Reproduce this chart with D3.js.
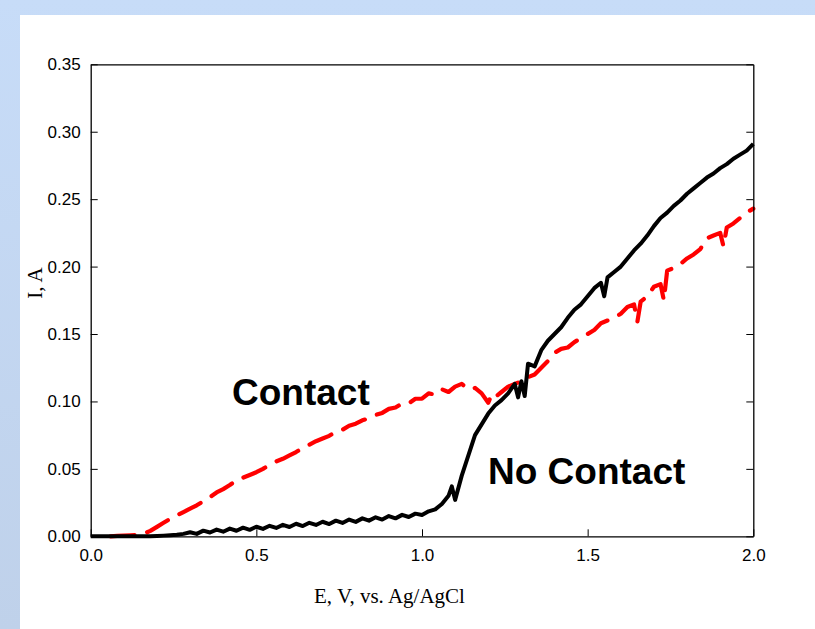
<!DOCTYPE html>
<html>
<head>
<meta charset="utf-8">
<script src="https://cdn.jsdelivr.net/npm/d3@7"></script>
<style>
  html, body { margin: 0; padding: 0; background: #ffffff; }
  svg { display: block; }
</style>
</head>
<body>
<svg id="chart" width="815" height="629"></svg>
<script>
// Polarization curves: current vs. potential (Ag/AgCl), with and without contact
const noContactE = [0.00,0.02,0.04,0.06,0.08,0.10,0.12,0.14,0.16,0.18,0.20,0.22,0.24,0.26,0.28,0.30,0.32,0.34,0.36,0.38,
  0.40,0.42,0.44,0.46,0.48,0.50,0.52,0.54,0.56,0.58,0.60,0.62,0.64,0.66,0.68,0.70,0.72,0.74,0.76,0.78,
  0.80,0.82,0.84,0.86,0.88,0.90,0.92,0.94,0.96,0.98,1.00,1.02,1.04,1.06,1.08,1.09,1.10,1.12,1.14,1.16,
  1.18,1.20,1.22,1.24,1.26,1.28,1.29,1.30,1.31,1.32,1.34,1.36,1.38,1.40,1.42,1.44,1.46,1.48,1.50,1.52,
  1.54,1.55,1.56,1.58,1.60,1.62,1.64,1.66,1.68,1.70,1.72,1.74,1.76,1.78,1.80,1.82,1.84,1.86,1.88,1.90,
  1.92,1.94,1.96,1.98,2.00];
const noContactI = [0,0,0,0,0,0,0,0,0,0,0.0003,0.0005,0.0008,0.0012,0.0018,0.0030,0.0018,0.0042,0.0028,0.0050,
  0.0034,0.0057,0.0041,0.0064,0.0048,0.0071,0.0055,0.0078,0.0062,0.0085,0.0069,0.0093,0.0076,0.0100,0.0084,0.0108,0.0091,0.0116,0.0099,0.0124,
  0.0107,0.0133,0.0116,0.0141,0.0124,0.0150,0.0133,0.0159,0.0143,0.0168,0.0158,0.0185,0.0200,0.0240,0.0300,0.0370,0.0270,0.0450,0.0600,0.0750,
  0.0830,0.0910,0.0970,0.1010,0.1060,0.1130,0.1030,0.1150,0.1040,0.1280,0.1260,0.1380,0.1450,0.1500,0.1550,0.1620,0.1680,0.1720,0.1780,0.1840,
  0.1880,0.1780,0.1920,0.1960,0.2000,0.2060,0.2120,0.2170,0.2230,0.2300,0.2360,0.2400,0.2450,0.2490,0.2540,0.2580,0.2620,0.2660,0.2690,0.2730,
  0.2760,0.2800,0.2830,0.2860,0.2910];

const contactE = [0.06,0.08,0.10,0.12,0.14,0.16,0.18,0.20,0.22,0.24,0.26,0.28,0.30,0.32,0.34,0.36,0.38,0.40,0.42,0.44,
  0.46,0.48,0.50,0.52,0.54,0.56,0.58,0.60,0.62,0.64,0.66,0.68,0.70,0.72,0.74,0.76,0.78,0.80,0.82,0.84,
  0.86,0.88,0.90,0.92,0.94,0.96,0.98,1.00,1.02,1.04,1.06,1.08,1.10,1.12,1.14,1.16,1.18,1.20,1.21,1.22,
  1.24,1.26,1.28,1.30,1.32,1.34,1.36,1.38,1.40,1.42,1.44,1.46,1.48,1.50,1.52,1.54,1.56,1.58,1.60,1.62,
  1.64,1.65,1.66,1.68,1.70,1.72,1.73,1.74,1.76,1.78,1.80,1.82,1.84,1.86,1.88,1.90,1.91,1.92,1.94,1.96,
  1.98,2.00];
const contactI = [0.0000,0.0003,0.0005,0.0007,0.0010,0.0020,0.0040,0.0070,0.0100,0.0130,0.0155,0.0180,0.0205,0.0230,0.0260,0.0290,0.0325,0.0350,0.0380,0.0415,
  0.0435,0.0455,0.0475,0.0500,0.0530,0.0555,0.0575,0.0600,0.0625,0.0655,0.0680,0.0705,0.0725,0.0745,0.0775,0.0790,0.0820,0.0835,0.0860,0.0875,
  0.0900,0.0915,0.0945,0.0955,0.0985,0.0985,0.1020,0.1020,0.1060,0.1050,0.1090,0.1070,0.1110,0.1130,0.1090,0.1100,0.1060,0.0990,0.1050,0.1030,
  0.1070,0.1110,0.1130,0.1150,0.1180,0.1200,0.1250,0.1300,0.1360,0.1390,0.1400,0.1440,0.1470,0.1500,0.1530,0.1580,0.1600,0.1620,0.1650,0.1700,
  0.1720,0.1590,0.1740,0.1780,0.1850,0.1870,0.1750,0.1970,0.1990,0.2020,0.2060,0.2090,0.2130,0.2210,0.2230,0.2250,0.2150,0.2290,0.2320,0.2360,
  0.2400,0.2430];

const xTicks = [0.0, 0.5, 1.0, 1.5, 2.0];
const yTicks = [0.00, 0.05, 0.10, 0.15, 0.20, 0.25, 0.30, 0.35];
const curveLabels = ["Contact", "No Contact"];
const xTitle = "E, V, vs. Ag/AgCl";
const yTitle = "I, A";

const svg = d3.select("#chart");
const W = 815, H = 629;

// Backdrop: pale blue frame with a white panel
const defs = svg.append("defs");
const grad = defs.append("linearGradient").attr("id", "bg").attr("x1", 0).attr("y1", 0).attr("x2", 0).attr("y2", 1);
grad.append("stop").attr("offset", "0%").attr("stop-color", "#c7dcf8");
grad.append("stop").attr("offset", "100%").attr("stop-color", "#bfd1ea");
svg.append("rect").attr("width", W).attr("height", H).attr("fill", "url(#bg)");
svg.append("rect").attr("x", 20).attr("y", 15).attr("width", W - 20).attr("height", H - 15).attr("fill", "#ffffff");

const plot = { left: 90.7, right: 753.3, top: 64.3, bottom: 536.3 };

const x = d3.scaleLinear().domain([0, 2]).range([plot.left, plot.right]);
const y = d3.scaleLinear().domain([0, 0.35]).range([plot.bottom, plot.top]);

// Curves
const line = d3.line().x(d => x(d[0])).y(d => y(d[1]));

svg.append("path")
  .datum(contactE.map((e, i) => [e, contactI[i]]))
  .attr("d", line)
  .attr("fill", "none")
  .attr("stroke", "#ff0000")
  .attr("stroke-width", 4.2)
  .attr("stroke-linecap", "round")
  .attr("stroke-linejoin", "round")
  .attr("stroke-dasharray", "24,13");

svg.append("path")
  .datum(noContactE.map((e, i) => [e, noContactI[i]]))
  .attr("d", line)
  .attr("fill", "none")
  .attr("stroke", "#000000")
  .attr("stroke-width", 4)
  .attr("stroke-linejoin", "round");

// Axes
const tickFont = "'Liberation Sans', Arial, sans-serif";

const gx = svg.append("g").attr("transform", `translate(0,${plot.bottom})`)
  .call(d3.axisBottom(x).tickValues(xTicks).tickFormat(d3.format(".1f")).tickSizeInner(-7).tickSizeOuter(0).tickPadding(13));
const gx2 = svg.append("g").attr("transform", `translate(0,${plot.top})`)
  .call(d3.axisTop(x).tickValues(xTicks).tickSize(0).tickFormat(""));
const gy = svg.append("g").attr("transform", `translate(${plot.left},0)`)
  .call(d3.axisLeft(y).tickValues(yTicks).tickFormat(d3.format(".2f")).tickSizeInner(-7).tickSizeOuter(0).tickPadding(10));
const gy2 = svg.append("g").attr("transform", `translate(${plot.right},0)`)
  .call(d3.axisRight(y).tickValues(yTicks).tickSizeInner(-7).tickSizeOuter(0).tickFormat(""));

[gx, gx2, gy, gy2].forEach(g => {
  g.select(".domain").attr("stroke", "#000").attr("stroke-width", 1.3);
  g.selectAll(".tick line").attr("stroke", "#000").attr("stroke-width", 1);
  g.selectAll(".tick text").attr("fill", "#000").style("font-family", tickFont).style("font-size", "17px");
});

// Axis titles
svg.append("text")
  .attr("x", 314).attr("y", 603)
  .style("font-family", "'Liberation Serif', 'Times New Roman', serif")
  .style("font-size", "21px")
  .text(xTitle);

svg.append("text")
  .attr("transform", `translate(42,283) rotate(-90)`)
  .attr("text-anchor", "middle")
  .style("font-family", "'Liberation Serif', 'Times New Roman', serif")
  .style("font-size", "21px")
  .text(yTitle);

// Curve annotations
svg.append("text")
  .attr("x", 232).attr("y", 405)
  .style("font-family", "'Liberation Sans', Arial, sans-serif")
  .style("font-weight", "bold").style("font-size", "37px")
  .text(curveLabels[0]);

svg.append("text")
  .attr("x", 488).attr("y", 484)
  .style("font-family", "'Liberation Sans', Arial, sans-serif")
  .style("font-weight", "bold").style("font-size", "37px")
  .text(curveLabels[1]);
</script>
</body>
</html>
